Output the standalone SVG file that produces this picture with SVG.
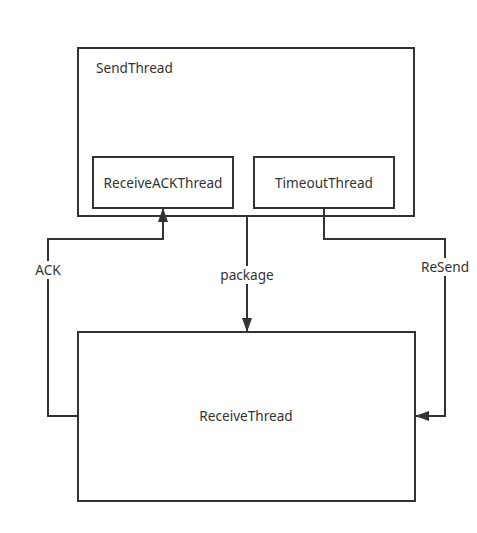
<svg xmlns="http://www.w3.org/2000/svg" width="477" height="533" viewBox="0 0 477 533">
<style>
.box{fill:#fff;stroke:#333;stroke-width:2}
.t{font-family:"Noto Sans","Open Sans",sans-serif;font-size:13.6px;fill:#333}
.c{text-anchor:middle}
.ln{fill:none;stroke:#333;stroke-width:2}
.lb{fill:#fff}
</style>
<defs>
<marker id="ar" viewBox="0 0 14 10" refX="13" refY="5" markerWidth="7" markerHeight="5" orient="auto" markerUnits="strokeWidth">
<path d="M0,0 L14,5 L0,10 z" fill="#333"/>
</marker>
</defs>
<rect width="477" height="533" fill="#fff"/>
<g id="SendThread">
<rect class="box" x="78" y="48" width="336" height="168"/>
<text class="t" x="96" y="73">SendThread</text>
</g>
<g id="ReceiveACKThread">
<rect class="box" x="93" y="157" width="140" height="51"/>
<text class="t c" x="163" y="188">ReceiveACKThread</text>
</g>
<g id="TimeoutThread">
<rect class="box" x="254" y="157" width="140" height="51"/>
<text class="t c" x="324" y="188">TimeoutThread</text>
</g>
<g id="ReceiveThread">
<rect class="box" x="78" y="332" width="337" height="169"/>
<text class="t c" x="246" y="421">ReceiveThread</text>
</g>
<g id="connectors">
<path class="ln" d="M78,416 H48 V239 H163 V209" marker-end="url(#ar)"/>
<path class="ln" d="M247,216 V331" marker-end="url(#ar)"/>
<path class="ln" d="M324,208 V239 H445 V416 H416" marker-end="url(#ar)"/>
<rect class="lb" x="33" y="261" width="30" height="18"/>
<text class="t c" x="48" y="275">ACK</text>
<rect class="lb" x="219" y="266" width="56" height="18"/>
<text class="t c" x="247" y="280">package</text>
<rect class="lb" x="420" y="258" width="50" height="18"/>
<text class="t c" x="445" y="272">ReSend</text>
</g>
</svg>
